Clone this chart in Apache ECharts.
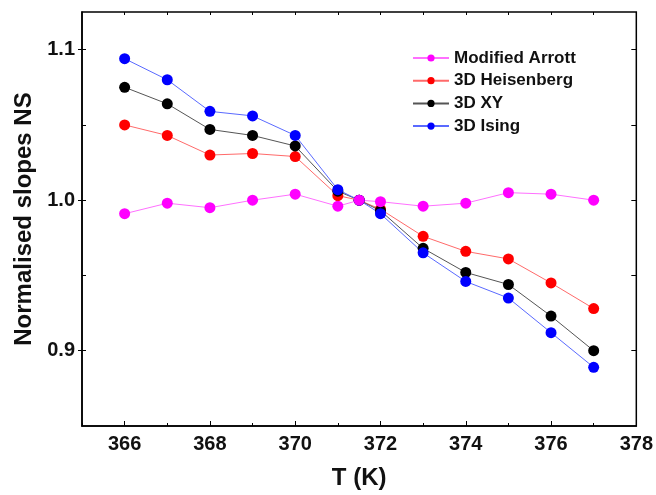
<!DOCTYPE html>
<html>
<head>
<meta charset="utf-8">
<script src="https://cdn.jsdelivr.net/npm/echarts@6/dist/echarts.min.js"></script>
<style>
  html, body { margin: 0; padding: 0; background: #fff; }
  #main { width: 656px; height: 495px; }
</style>
</head>
<body>
<div id="main"></div>
<script>
// temperatures (K)
var temps = [366, 367, 368, 369, 370, 371, 371.5, 372, 373, 374, 375, 376, 377];

// normalised slopes per model
var arrott     = [0.991, 0.998, 0.995, 1.000, 1.004, 0.996, 1.000, 0.999, 0.996, 0.998, 1.005, 1.004, 1.000];
var heisenberg = [1.050, 1.043, 1.030, 1.031, 1.029, 1.003, 1.000, 0.994, 0.976, 0.966, 0.961, 0.945, 0.928];
var xy3d       = [1.075, 1.064, 1.047, 1.043, 1.036, 1.006, 1.000, 0.993, 0.968, 0.952, 0.944, 0.923, 0.900];
var ising      = [1.094, 1.080, 1.059, 1.056, 1.043, 1.007, 1.000, 0.991, 0.965, 0.946, 0.935, 0.912, 0.889];

// ticks
var xLabels = [366, 368, 370, 372, 374, 376, 378];
var xMinor = [365, 367, 369, 371, 373, 375, 377];
var xAll = [366, 367, 368, 369, 370, 371, 372, 373, 374, 375, 376, 377];
var yLabels = [0.9, 1.0, 1.1];
var yAll = [0.9, 0.95, 1.0, 1.05, 1.1];

var font = 'Liberation Sans, Arial, sans-serif';

function pairs(vals) {
    return temps.map(function (t, i) { return [t, vals[i]]; });
}

function makeSeries(name, vals, dot, line) {
    return {
        name: name,
        type: 'line',
        data: pairs(vals),
        symbol: 'circle',
        symbolSize: 11,
        showSymbol: true,
        itemStyle: { color: dot },
        lineStyle: { color: line, width: 1 },
        emphasis: { disabled: true },
        animation: false
    };
}

var myChart = echarts.init(document.getElementById('main'));

var bareAxisLine = { show: false };

var option = {
    backgroundColor: '#fff',
    grid: {
        left: 82, right: 18, top: 12, bottom: 65,
        show: true, borderColor: '#000', borderWidth: 1.5
    },
    legend: {
        orient: 'vertical',
        left: 407,
        top: 44,
        itemWidth: 36,
        itemHeight: 9,
        itemGap: 4.7,
        data: ['Modified Arrott', '3D Heisenberg', '3D XY', '3D Ising'],
        textStyle: { fontFamily: font, fontWeight: 'bold', fontSize: 17, color: '#111', lineHeight: 18 }
    },
    xAxis: [
        {
            type: 'value', position: 'bottom', min: 365, max: 378,
            name: 'T (K)', nameLocation: 'middle', nameGap: 40,
            nameTextStyle: { fontFamily: font, fontWeight: 'bold', fontSize: 24, color: '#111' },
            axisLine: { show: true, lineStyle: { color: '#000', width: 1.5 } },
            axisTick: { show: true, inside: true, length: 5, customValues: xLabels, lineStyle: { color: '#000', width: 1 } },
            axisLabel: { customValues: xLabels, margin: 8, fontFamily: font, fontWeight: 'bold', fontSize: 20, color: '#111' },
            splitLine: { show: false }
        },
        {
            type: 'value', position: 'bottom', min: 365, max: 378,
            axisLine: bareAxisLine,
            axisTick: { show: true, inside: true, length: 3, customValues: xMinor, lineStyle: { color: '#000', width: 1 } },
            axisLabel: { show: false },
            splitLine: { show: false }
        },
        {
            type: 'value', position: 'top', min: 365, max: 378,
            axisLine: bareAxisLine,
            axisTick: { show: true, inside: true, length: 3, customValues: xAll, lineStyle: { color: '#000', width: 1 } },
            axisLabel: { show: false },
            splitLine: { show: false }
        }
    ],
    yAxis: [
        {
            type: 'value', position: 'left', min: 0.85, max: 1.125,
            name: 'Normalised slopes NS', nameLocation: 'middle', nameGap: 43, nameRotate: 90,
            nameTextStyle: { fontFamily: font, fontWeight: 'bold', fontSize: 24, color: '#111' },
            axisLine: { show: true, lineStyle: { color: '#000', width: 1.5 } },
            axisTick: { show: true, inside: false, length: 4, customValues: yLabels, lineStyle: { color: '#000', width: 1 } },
            axisLabel: {
                customValues: yLabels, margin: 7, fontFamily: font, fontWeight: 'bold', fontSize: 20, color: '#111',
                formatter: function (v) { return v.toFixed(1); }
            },
            splitLine: { show: false }
        },
        {
            type: 'value', position: 'left', min: 0.85, max: 1.125,
            axisLine: bareAxisLine,
            axisTick: { show: true, inside: true, length: 4, customValues: yAll, lineStyle: { color: '#000', width: 1 } },
            axisLabel: { show: false },
            splitLine: { show: false }
        },
        {
            type: 'value', position: 'right', min: 0.85, max: 1.125,
            axisLine: bareAxisLine,
            axisTick: { show: true, inside: true, length: 5, customValues: yAll, lineStyle: { color: '#000', width: 1 } },
            axisLabel: { show: false },
            splitLine: { show: false }
        }
    ],
    // drawing order: red, black, blue, then magenta on top
    series: [
        makeSeries('3D Heisenberg', heisenberg, '#ff0000', '#ff6a6a'),
        makeSeries('3D XY', xy3d, '#000000', '#555555'),
        makeSeries('3D Ising', ising, '#0000ff', '#5a6aff'),
        makeSeries('Modified Arrott', arrott, '#ff00ff', '#ff70ff')
    ]
};

myChart.setOption(option);
</script>
</body>
</html>
